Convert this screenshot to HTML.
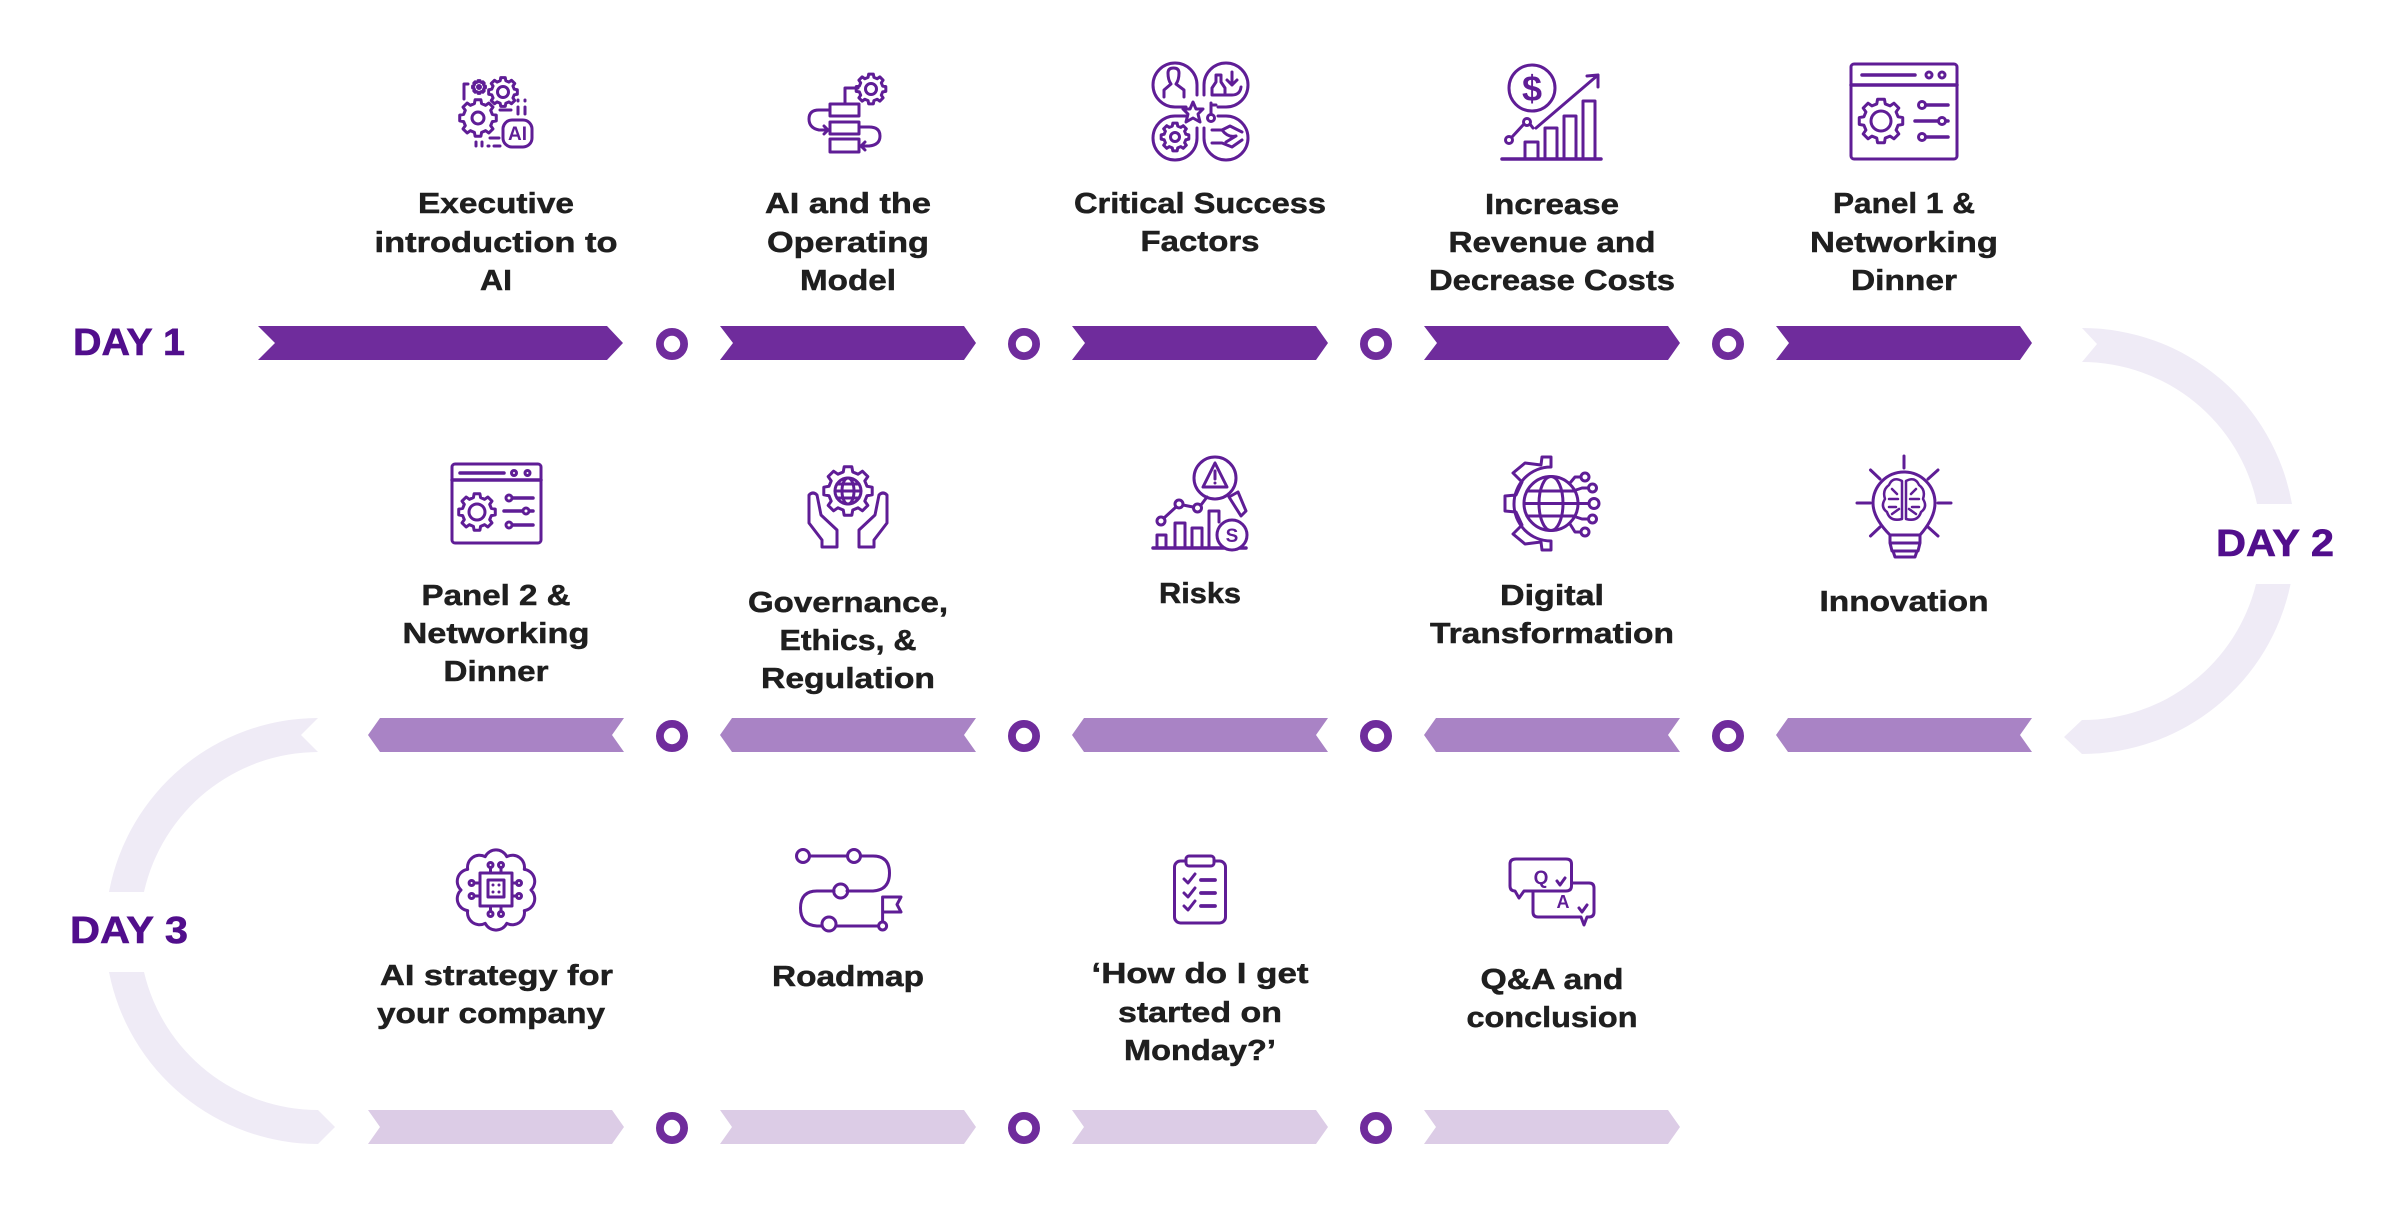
<!DOCTYPE html>
<html><head><meta charset="utf-8"><style>
html,body{margin:0;padding:0;background:#fff}
svg{display:block}
.t text{font-family:"Liberation Sans",sans-serif;font-weight:700;font-size:29px;fill:#1f1f1f;stroke:#1f1f1f;stroke-width:.5px;text-anchor:middle}
.d text{font-family:"Liberation Sans",sans-serif;font-weight:700;font-size:38px;fill:#510e8c;stroke:#510e8c;stroke-width:.6px;text-anchor:middle}
.i{fill:none;stroke:#5f1d96;stroke-width:3;stroke-linecap:round;stroke-linejoin:round}
.i text{font-family:"Liberation Sans",sans-serif;font-weight:700;fill:#5f1d96;stroke:none;text-anchor:middle}
.n{vector-effect:non-scaling-stroke}
</style></head><body>
<svg width="2400" height="1208" viewBox="0 0 2400 1208" xmlns="http://www.w3.org/2000/svg">
<defs><polygon id="g" class="n" points="7.76,-1.94 9.88,-1.56 9.88,1.56 7.76,1.94 6.86,4.12 8.09,5.88 5.88,8.09 4.12,6.86 1.94,7.76 1.56,9.88 -1.56,9.88 -1.94,7.76 -4.12,6.86 -5.88,8.09 -8.09,5.88 -6.86,4.12 -7.76,1.94 -9.88,1.56 -9.88,-1.56 -7.76,-1.94 -6.86,-4.12 -8.09,-5.88 -5.88,-8.09 -4.12,-6.86 -1.94,-7.76 -1.56,-9.88 1.56,-9.88 1.94,-7.76 4.12,-6.86 5.88,-8.09 8.09,-5.88 6.86,-4.12"/></defs>

<!-- arcs -->
<g fill="#efebf6">
<path d="M2082,328 A213,213 0 0 1 2292,504 L2257,504 A179,179 0 0 0 2082,362 L2097,344 Z"/>
<path d="M2290.6,584 A213,213 0 0 1 2082,754 L2064,737 L2082,720 A179,179 0 0 0 2256,584 Z"/>
<path d="M318,718 A213,213 0 0 0 109,892 L144,892 A179,179 0 0 1 318,752 L301,735 Z"/>
<path d="M109,972 A213,213 0 0 0 318,1144 L335,1127 L318,1110 A179,179 0 0 1 144,972 Z"/>
</g>

<!-- bars row 1 -->
<g fill="#6f2c9c">
<polygon points="258,326 607,326 623,343 607,360 258,360 275,343"/>
<polygon points="720,326 964,326 976,343 964,360 720,360 733,343"/>
<polygon points="1072,326 1316,326 1328,343 1316,360 1072,360 1085,343"/>
<polygon points="1424,326 1668,326 1680,343 1668,360 1424,360 1437,343"/>
<polygon points="1776,326 2020,326 2032,343 2020,360 1776,360 1789,343"/>
</g>
<!-- bars row 2 -->
<g fill="#a983c5">
<polygon points="380,718 624,718 612,735 624,752 380,752 368,735"/>
<polygon points="732,718 976,718 964,735 976,752 732,752 720,735"/>
<polygon points="1084,718 1328,718 1316,735 1328,752 1084,752 1072,735"/>
<polygon points="1436,718 1680,718 1668,735 1680,752 1436,752 1424,735"/>
<polygon points="1788,718 2032,718 2020,735 2032,752 1788,752 1776,735"/>
</g>
<!-- bars row 3 -->
<g fill="#dccce6">
<polygon points="368,1110 612,1110 624,1127 612,1144 368,1144 380,1127"/>
<polygon points="720,1110 964,1110 976,1127 964,1144 720,1144 732,1127"/>
<polygon points="1072,1110 1316,1110 1328,1127 1316,1144 1072,1144 1084,1127"/>
<polygon points="1424,1110 1668,1110 1680,1127 1668,1144 1424,1144 1436,1127"/>
</g>
<!-- rings -->
<g fill="#fff" stroke="#6f2c9c" stroke-width="7.8">
<circle cx="672" cy="344" r="12.1"/><circle cx="1024" cy="344" r="12.1"/><circle cx="1376" cy="344" r="12.1"/><circle cx="1728" cy="344" r="12.1"/>
<circle cx="672" cy="736" r="12.1"/><circle cx="1024" cy="736" r="12.1"/><circle cx="1376" cy="736" r="12.1"/><circle cx="1728" cy="736" r="12.1"/>
<circle cx="672" cy="1128" r="12.1"/><circle cx="1024" cy="1128" r="12.1"/><circle cx="1376" cy="1128" r="12.1"/>
</g>

<!-- day labels -->
<g class="d">
<text x="129" y="355" textLength="112" lengthAdjust="spacingAndGlyphs">DAY 1</text>
<text x="2275" y="556" textLength="118" lengthAdjust="spacingAndGlyphs">DAY 2</text>
<text x="129" y="943" textLength="118" lengthAdjust="spacingAndGlyphs">DAY 3</text>
</g>

<!-- text -->
<g class="t">
<text x="496" y="213" textLength="156" lengthAdjust="spacingAndGlyphs">Executive</text>
<text x="496" y="252" textLength="243" lengthAdjust="spacingAndGlyphs">introduction to</text>
<text x="496" y="290" textLength="32" lengthAdjust="spacingAndGlyphs">AI</text>
<text x="848" y="213" textLength="166" lengthAdjust="spacingAndGlyphs">AI and the</text>
<text x="848" y="252" textLength="162" lengthAdjust="spacingAndGlyphs">Operating</text>
<text x="848" y="290" textLength="96" lengthAdjust="spacingAndGlyphs">Model</text>
<text x="1200" y="213" textLength="252" lengthAdjust="spacingAndGlyphs">Critical Success</text>
<text x="1200" y="251" textLength="119" lengthAdjust="spacingAndGlyphs">Factors</text>
<text x="1552" y="214" textLength="134" lengthAdjust="spacingAndGlyphs">Increase</text>
<text x="1552" y="252" textLength="207" lengthAdjust="spacingAndGlyphs">Revenue and</text>
<text x="1552" y="290" textLength="246" lengthAdjust="spacingAndGlyphs">Decrease Costs</text>
<text x="1904" y="213" textLength="142" lengthAdjust="spacingAndGlyphs">Panel 1 &amp;</text>
<text x="1904" y="252" textLength="188" lengthAdjust="spacingAndGlyphs">Networking</text>
<text x="1904" y="290" textLength="106" lengthAdjust="spacingAndGlyphs">Dinner</text>

<text x="496" y="605" textLength="149" lengthAdjust="spacingAndGlyphs">Panel 2 &amp;</text>
<text x="496" y="643" textLength="187" lengthAdjust="spacingAndGlyphs">Networking</text>
<text x="496" y="681" textLength="105" lengthAdjust="spacingAndGlyphs">Dinner</text>
<text x="848" y="612" textLength="200" lengthAdjust="spacingAndGlyphs">Governance,</text>
<text x="848" y="650" textLength="137" lengthAdjust="spacingAndGlyphs">Ethics, &amp;</text>
<text x="848" y="688" textLength="174" lengthAdjust="spacingAndGlyphs">Regulation</text>
<text x="1200" y="603" textLength="82" lengthAdjust="spacingAndGlyphs">Risks</text>
<text x="1552" y="605" textLength="104" lengthAdjust="spacingAndGlyphs">Digital</text>
<text x="1552" y="643" textLength="244" lengthAdjust="spacingAndGlyphs">Transformation</text>
<text x="1904" y="611" textLength="169" lengthAdjust="spacingAndGlyphs">Innovation</text>

<text x="496.5" y="985" textLength="233" lengthAdjust="spacingAndGlyphs">AI strategy for</text>
<text x="491" y="1023" textLength="228" lengthAdjust="spacingAndGlyphs">your company</text>
<text x="848" y="986" textLength="152" lengthAdjust="spacingAndGlyphs">Roadmap</text>
<text x="1200" y="983" textLength="217" lengthAdjust="spacingAndGlyphs">‘How do I get</text>
<text x="1200" y="1022" textLength="164" lengthAdjust="spacingAndGlyphs">started on</text>
<text x="1200" y="1060" textLength="152" lengthAdjust="spacingAndGlyphs">Monday?’</text>
<text x="1552" y="989" textLength="143" lengthAdjust="spacingAndGlyphs">Q&amp;A and</text>
<text x="1552" y="1027" textLength="171" lengthAdjust="spacingAndGlyphs">conclusion</text>
</g>

<!-- icon 1: gears + AI -->
<g class="i" stroke-width="3.4">
<use href="#g" transform="translate(478,118) scale(1.85)"/><circle cx="478" cy="118" r="6"/>
<use href="#g" transform="translate(503,92) scale(1.45)"/><circle cx="503" cy="92" r="5.5"/>
<use href="#g" transform="translate(479,87) scale(.65)"/><circle cx="479" cy="87" r="1.5"/>
<rect x="503" y="120" width="29" height="27" rx="9"/>
<text x="517.5" y="140" font-size="19">AI</text>
<path d="M464,99V84H468M500,110H511M518,107V114M525,107V114M518,100V101M525,100V101M476,142V146M482,142V146M490,138H499M488,146H489M494,146H500"/>
</g>

<!-- icon 2: operating model -->
<g class="i">
<rect x="830" y="104" width="29" height="12"/><rect x="830" y="122" width="29" height="12"/><rect x="830" y="139" width="29" height="13"/>
<use href="#g" transform="translate(871,89) scale(1.5)"/><circle cx="871" cy="89" r="5.5"/>
<path d="M845,104V88H858"/>
<path d="M830,110H819Q809,110 809,119T819,130H828M824,126L828,130L824,134"/>
<path d="M859,127H869Q880,127 880,136T869,146H861M865,142L861,146L865,150"/>
</g>

<!-- icon 3: critical success -->
<g class="i">
<path d="M1197,95V85A22,22 0 1 0 1175,107H1186"/>
<path d="M1204,95V85A22,22 0 1 1 1226,107H1218"/>
<path d="M1197,128V138A22,22 0 1 1 1175,116H1186"/>
<path d="M1204,128V138A22,22 0 1 0 1226,116H1218"/>
<path d="M1164,97V90L1171,84Q1168,80 1168,73Q1168,68 1173.5,68Q1179,68 1179,73Q1179,80 1176,84L1184,90V97"/>
<path d="M1212,95V88L1216,82V75H1221V82L1225,88V95ZM1225,95H1232Q1240,95 1241,87M1232,72V85M1227,80L1232,85L1237,80"/>
<use href="#g" transform="translate(1175,137) scale(1.4)"/><circle cx="1175" cy="137" r="4.5"/>
<path d="M1212,130H1222L1230,126L1242,132M1212,143H1222L1232,147L1242,140M1222,130Q1228,138 1236,136M1226,142L1236,136"/>
<polygon points="1193,102 1196,109 1203,109 1198,114 1200,122 1193,118 1186,122 1188,114 1183,109 1190,109"/>
<path d="M1211,103V114M1211,105H1216"/><circle cx="1211" cy="118" r="3.5"/>
</g>

<!-- icon 4: revenue -->
<g class="i">
<circle cx="1532" cy="88" r="23"/>
<text x="1532" y="101" font-size="36">$</text>
<path d="M1502,159H1601" stroke-width="3.5"/>
<path d="M1525,158V142H1538V158M1545,158V128H1557V158M1564,158V116H1576V158M1583,158V101H1595V158"/>
<path d="M1536,128L1598,75M1587,76L1598,75L1598,87"/>
<path d="M1512,137L1524,124M1530,124L1533,128"/>
<circle cx="1509" cy="140" r="3.500"/><circle cx="1527" cy="122" r="3.500"/>
</g>

<!-- icon 5: panel 1 -->
<g class="i">
<rect x="1851" y="64" width="106" height="95" rx="3"/>
<path d="M1851,85H1957" stroke-width="3.500"/><path d="M1862,75H1915" stroke-width="3.500"/>
<circle cx="1929" cy="75" r="3"/><circle cx="1942" cy="75" r="3"/>
<use href="#g" transform="translate(1881,121) scale(2.2)"/><circle cx="1881" cy="121" r="10"/>
<path d="M1922,105H1948M1915,121H1948M1922,137H1948" stroke-width="3.500"/>
<circle cx="1922" cy="105" r="3.500" fill="#fff"/><circle cx="1942" cy="121" r="3.500" fill="#fff"/><circle cx="1922" cy="137" r="3.500" fill="#fff"/>
</g>

<!-- icon 6: panel 2 -->
<g class="i">
<rect x="452" y="464" width="89" height="79" rx="3"/>
<path d="M452,480H541" stroke-width="3.500"/><path d="M460,473H504" stroke-width="3.500"/>
<circle cx="514" cy="473" r="2.500"/><circle cx="527.500" cy="473" r="2.500"/>
<use href="#g" transform="translate(477,512) scale(1.85)"/><circle cx="477" cy="512" r="8"/>
<path d="M509,498H533M504,511H533M509,525H533" stroke-width="3.500"/>
<circle cx="509" cy="498" r="3" fill="#fff"/><circle cx="526" cy="511" r="3" fill="#fff"/><circle cx="509" cy="525" r="3" fill="#fff"/>
</g>

<!-- icon 7: governance -->
<g class="i">
<use href="#g" transform="translate(848,491) scale(2.45)"/>
<circle cx="848" cy="491" r="13"/><path d="M835,491H861M837,484H859M837,498H859"/><ellipse cx="848" cy="491" rx="6" ry="13"/>
<path d="M809,495Q813,491 817,495L821,515L837,530V547H822V540L809,523Z"/>
<path d="M887,495Q883,491 879,495L875,515L859,530V547H874V540L887,523Z"/>
</g>

<!-- icon 8: risks -->
<g class="i">
<circle cx="1215" cy="478" r="21"/>
<polygon points="1215,463 1203,487 1227,487"/><path d="M1215,471V479M1215,483V483"/>
<path d="M1229,497L1238,492L1246,511L1241,516Z"/>
<path d="M1164,518L1176,507M1183,505L1193,507M1201,505L1207,497"/>
<circle cx="1161" cy="521" r="4"/><circle cx="1179" cy="504" r="4"/><circle cx="1197.500" cy="508" r="4"/>
<path d="M1153,548H1246" stroke-width="3.500"/>
<path d="M1157,547V535H1166V547M1175,547V523H1185V547M1192,547V528H1202V547M1209,547V511H1219V522"/>
<circle cx="1232" cy="535" r="15" fill="#fff"/>
<text x="1232" y="542" font-size="19">S</text>
</g>

<!-- icon 9: digital transformation -->
<g class="i" stroke-width="3.400">
<path d="M1551,457H1542L1541,465L1525,463L1513,473L1522,482L1516,495L1505,496V511L1516,512L1522,525L1513,534L1525,544L1541,542L1542,550H1551V541A37,37 0 0 1 1551,467Z"/>
<circle cx="1551" cy="503.500" r="27"/>
<ellipse cx="1551" cy="503.500" rx="12" ry="27"/>
<path d="M1524,503.500H1578M1527,491H1575M1527,516H1575"/>
<path d="M1570,483L1575,477H1581M1576,490L1582,488H1588M1578,503.500H1588M1576,517L1582,519H1588M1570,524L1575,532H1581"/>
<circle cx="1585" cy="477" r="4"/><circle cx="1592.500" cy="488" r="4"/><circle cx="1594" cy="503.500" r="5"/><circle cx="1592.500" cy="519" r="4"/><circle cx="1585" cy="532" r="4"/>
</g>

<!-- icon 10: innovation -->
<g class="i">
<path d="M1890,535Q1873,518 1873,503A31,31 0 0 1 1935,503Q1935,518 1920,535"/>
<path d="M1890,535H1920V543H1890ZM1890,543H1920L1918,551H1892ZM1893,551H1917L1915,557H1895Z"/>
<path d="M1904,456V468M1870.500,470L1880,479M1938,470L1928,479M1857,503H1870.500M1938,503H1951M1870.500,536L1880,527M1938,536L1928,527"/>
<path d="M1902,481Q1893,476 1889,485Q1882,490 1885,499Q1880,507 1887,512Q1890,522 1902,519ZM1906,481Q1915,476 1919,485Q1926,490 1923,499Q1928,507 1921,512Q1918,522 1906,519Z" stroke-width="2.500"/>
<path d="M1892,489L1897,494M1889,499H1898M1889,507H1896M1892,514L1899,509M1916,489L1911,494M1919,499H1910M1919,507H1912M1916,514L1909,509" stroke-width="2.500"/>
</g>

<!-- icon 11: AI brain -->
<g class="i" stroke-width="2.600">
<path d="M506.800,856.700A12,12 0 0 1 524.300,869.400A12,12 0 0 1 531,890A12,12 0 0 1 524.300,910.600A12,12 0 0 1 506.800,923.300A12,12 0 0 1 485.200,923.300A12,12 0 0 1 467.700,910.600A12,12 0 0 1 461,890A12,12 0 0 1 467.700,869.400A12,12 0 0 1 485.200,856.700A12,12 0 0 1 506.800,856.700Z"/>
<rect x="480" y="873" width="32" height="33"/><rect x="488" y="880" width="16" height="17"/>
<path d="M490.500,868V873M501,868V873M490.500,906V911M501,906V911M475,883H480M475,896H480M512,883H516M512,896H516M493,885H493M499,885H499M493,892H493M499,892H499"/>
<circle cx="490.500" cy="865" r="2.500"/><circle cx="501" cy="865" r="2.500"/><circle cx="490.500" cy="914" r="2.500"/><circle cx="501" cy="914" r="2.500"/>
<circle cx="471.600" cy="883" r="2.500"/><circle cx="471.600" cy="896" r="2.500"/><circle cx="519" cy="883" r="2.500"/><circle cx="519" cy="896" r="2.500"/>
</g>

<!-- icon 12: roadmap -->
<g class="i" stroke-width="3.400">
<path d="M810,856H847M861,856H873Q889.500,856 889.500,873T873,891H847M834,891H817Q800.500,891 800.500,908T817,926H822M836,926H878"/>
<circle cx="803" cy="856" r="6.500"/><circle cx="854" cy="856" r="6.500"/><circle cx="840.700" cy="891" r="7"/><circle cx="829" cy="924" r="7"/><circle cx="882.600" cy="926" r="4"/>
<path d="M882.600,922V897H901L897,904.500L901,912H882.600"/>
</g>

<!-- icon 13: clipboard -->
<g class="i" stroke-width="3.500">
<rect x="1174.500" y="861" width="51" height="62" rx="6"/>
<rect x="1186" y="856" width="28" height="10" rx="3" fill="#fff"/>
<path d="M1184,879L1188,883L1195,874M1184,893L1188,897L1195,888M1184,906L1188,910L1195,901"/>
<path d="M1201,880H1215M1201,893H1215M1201,906H1215" stroke-width="3.800"/>
</g>

<!-- icon 14: Q&A -->
<g class="i">
<path d="M1516,859H1566Q1571.500,859 1571.500,864V886Q1571.500,891 1566,891H1524L1519,898L1515,891Q1510,891 1510,886V864Q1510,859 1516,859Z"/>
<path d="M1572,883H1589Q1594,883 1594,888V912Q1594,917 1589,917H1587L1584,925L1581,917H1538Q1533,917 1533,912V892"/>
<text x="1541" y="884" font-size="19">Q</text>
<text x="1563" y="908" font-size="18">A</text>
<path d="M1557,881L1560,885L1565,878M1579,908L1582,912L1587,905"/>
</g>
</svg>
</body></html>
